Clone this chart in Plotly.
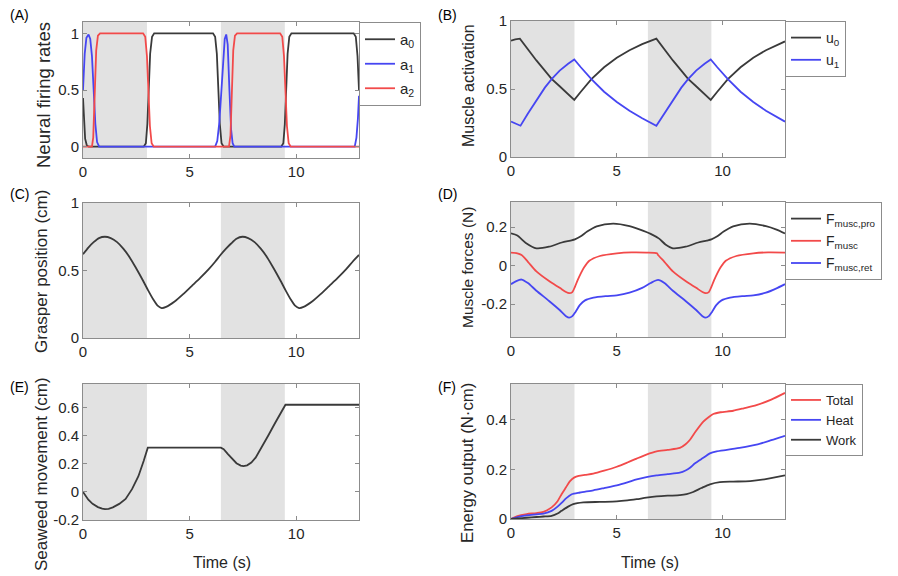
import plotly.graph_objects as go
from plotly.subplots import make_subplots

# ---- data ----
# shaded phases (s)
shade_start = [0.0, 6.47]
shade_end = [3.0, 9.47]

# (A) neural firing rates
t_a0 = [0, 0.05, 0.1, 0.18, 0.28, 2.85, 2.95, 3.02, 3.08, 3.15, 3.24, 3.34,
        6.1, 6.2, 6.28, 6.35, 6.42, 6.5, 6.6, 9.3, 9.4, 9.47, 9.53, 9.6, 9.68, 9.78,
        12.7, 12.8, 12.88, 12.95]
a0 = [0.43, 0.2, 0.07, 0.01, 0, 0, 0.03, 0.2, 0.5, 0.82, 0.97, 1,
      1, 0.97, 0.82, 0.5, 0.2, 0.03, 0, 0, 0.03, 0.2, 0.5, 0.82, 0.97, 1,
      1, 0.97, 0.8, 0.5]
t_a1 = [0, 0.08, 0.16, 0.26, 0.34, 0.42, 0.5, 0.58, 0.66, 0.76,
        6.2, 6.3, 6.4, 6.5, 6.58, 6.65, 6.72, 6.79, 6.87, 6.95, 7.02, 7.1,
        12.75, 12.83, 12.9, 12.95]
a1 = [0.5, 0.82, 0.96, 0.99, 0.95, 0.8, 0.5, 0.2, 0.04, 0,
      0, 0.05, 0.22, 0.5, 0.8, 0.95, 0.99, 0.9, 0.5, 0.15, 0.03, 0,
      0, 0.08, 0.25, 0.45]
t_a2 = [0, 0.42, 0.48, 0.55, 0.62, 0.7, 0.8, 2.82, 2.92, 3.0, 3.07, 3.14, 3.22, 3.32,
        6.85, 6.92, 6.98, 7.05, 7.13, 7.23, 9.25, 9.35, 9.43, 9.5, 9.57, 9.65, 9.75, 12.95]
a2 = [0, 0, 0.08, 0.45, 0.85, 0.98, 1, 1, 0.97, 0.8, 0.5, 0.18, 0.03, 0,
      0, 0.1, 0.45, 0.85, 0.98, 1, 1, 0.97, 0.8, 0.5, 0.18, 0.03, 0, 0]

# (B) muscle activation
t_u0 = [0, 0.2, 0.42, 0.8, 1.2, 1.6, 1.92, 2.3, 2.7, 2.99, 3.3, 3.8, 4.4, 5.0, 5.6, 6.2,
        6.87, 7.25, 7.65, 8.05, 8.37, 8.75, 9.15, 9.44, 9.75, 10.25, 10.85, 11.45,
        12.05, 12.65, 12.95]
u0 = [0.855, 0.865, 0.87, 0.79, 0.71, 0.635, 0.575, 0.52, 0.465, 0.42, 0.48, 0.573,
      0.66, 0.73, 0.785, 0.83, 0.87, 0.79, 0.71, 0.635, 0.575, 0.52, 0.465, 0.42,
      0.48, 0.573, 0.66, 0.73, 0.785, 0.83, 0.85]
t_u1 = [0, 0.2, 0.45, 0.8, 1.2, 1.6, 1.92, 2.3, 2.7, 2.99, 3.3, 3.8, 4.4, 5.0, 5.6, 6.2,
        6.87, 7.25, 7.65, 8.05, 8.37, 8.75, 9.15, 9.44, 9.75, 10.25, 10.85, 11.45,
        12.05, 12.65, 12.95]
u1 = [0.26, 0.245, 0.23, 0.32, 0.42, 0.51, 0.573, 0.635, 0.685, 0.717, 0.66, 0.573,
      0.48, 0.405, 0.34, 0.285, 0.23, 0.32, 0.42, 0.51, 0.573, 0.635, 0.685, 0.717,
      0.66, 0.573, 0.48, 0.405, 0.34, 0.285, 0.26]

# (C) grasper position
t_gr = [0, 0.25, 0.5, 0.75, 1.03, 1.3, 1.6, 1.9, 2.2, 2.5, 2.8, 3.05, 3.3, 3.5, 3.69,
        3.9, 4.3, 4.7, 5.1, 5.5, 5.9, 6.2, 6.45, 6.7, 6.95, 7.2, 7.48, 7.75, 8.05,
        8.35, 8.65, 8.95, 9.25, 9.5, 9.75, 9.95, 10.14, 10.35, 10.75, 11.15, 11.55,
        11.95, 12.35, 12.65, 12.95]
grasper = [0.62, 0.67, 0.71, 0.74, 0.75, 0.74, 0.71, 0.66, 0.595, 0.515, 0.43, 0.355,
           0.285, 0.24, 0.222, 0.23, 0.27, 0.325, 0.385, 0.445, 0.51, 0.565, 0.615,
           0.66, 0.7, 0.735, 0.75, 0.74, 0.71, 0.66, 0.595, 0.515, 0.43, 0.355, 0.285,
           0.24, 0.222, 0.23, 0.27, 0.325, 0.385, 0.445, 0.51, 0.565, 0.615]

# (D) muscle forces
t_fpro = [0, 0.3, 0.7, 1.2, 1.8, 2.4, 2.8, 3.02, 3.3, 3.6, 4.05, 4.83, 5.6, 6.1, 6.6,
          7.0, 7.3, 7.65, 8.25, 8.85, 9.25, 9.47, 9.75, 10.05, 10.5, 11.28, 12.05,
          12.55, 12.95]
f_pro = [0.167, 0.156, 0.118, 0.09, 0.098, 0.12, 0.13, 0.136, 0.152, 0.177, 0.204,
         0.218, 0.205, 0.187, 0.165, 0.14, 0.11, 0.09, 0.098, 0.12, 0.13, 0.136, 0.152,
         0.177, 0.204, 0.218, 0.205, 0.187, 0.167]
t_fm = [0, 0.3, 0.5, 0.8, 1.2, 1.8, 2.3, 2.6, 2.75, 2.9, 3.02, 3.15, 3.3, 3.45, 3.7,
        4.2, 5.0, 5.7, 6.4, 6.9, 6.95, 7.25, 7.65, 8.25, 8.75, 9.05, 9.2, 9.35, 9.47,
        9.6, 9.75, 9.9, 10.15, 10.65, 11.45, 12.15, 12.95]
f_musc = [0.067, 0.064, 0.055, 0.02, -0.03, -0.08, -0.115, -0.137, -0.143, -0.137,
          -0.11, -0.075, -0.04, -0.01, 0.025, 0.05, 0.064, 0.069, 0.068, 0.064, 0.055,
          0.02, -0.03, -0.08, -0.115, -0.137, -0.143, -0.137, -0.11, -0.075, -0.04,
          -0.01, 0.025, 0.05, 0.064, 0.069, 0.068]
t_fret = [0, 0.25, 0.5, 0.8, 1.2, 1.8, 2.3, 2.6, 2.75, 2.9, 3.05, 3.25, 3.5, 3.9, 4.5,
          5.0, 5.6, 6.2, 6.6, 6.95, 7.25, 7.65, 8.25, 8.75, 9.05, 9.2, 9.35, 9.5, 9.7,
          9.95, 10.35, 10.95, 11.45, 12.05, 12.6, 12.95]
f_ret = [-0.096, -0.08, -0.072, -0.09, -0.13, -0.183, -0.23, -0.262, -0.27, -0.262,
         -0.24, -0.205, -0.18, -0.166, -0.158, -0.154, -0.14, -0.115, -0.09, -0.074,
         -0.09, -0.13, -0.183, -0.23, -0.262, -0.27, -0.262, -0.24, -0.205, -0.18,
         -0.166, -0.158, -0.154, -0.14, -0.115, -0.096]

# (E) seaweed movement
t_sw = [0, 0.1, 0.25, 0.45, 0.7, 0.9, 1.03, 1.2, 1.4, 1.7, 2.0, 2.3, 2.6, 2.85, 3.04,
        6.47, 6.6, 6.8, 7.0, 7.2, 7.4, 7.53, 7.7, 7.9, 8.1, 8.4, 8.7, 9.0, 9.25, 9.5,
        12.95]
seaweed = [0, -0.025, -0.055, -0.085, -0.108, -0.119, -0.122, -0.12, -0.11, -0.085,
           -0.05, 0.02, 0.112, 0.222, 0.316, 0.316, 0.305, 0.27, 0.235, 0.205, 0.188,
           0.185, 0.19, 0.21, 0.245, 0.32, 0.405, 0.488, 0.555, 0.622, 0.622]

# (F) energy output
t_tot = [0, 0.3, 0.74, 1.2, 1.53, 1.92, 2.2, 2.39, 2.6, 2.79, 3.0, 3.2, 3.5, 3.89, 4.4,
         5.0, 5.5, 5.94, 6.4, 6.88, 7.4, 7.98, 8.25, 8.46, 8.7, 9.09, 9.35, 9.56, 9.9,
         10.5, 11.0, 11.6, 12.3, 12.95]
e_total = [0, 0.012, 0.02, 0.024, 0.029, 0.047, 0.072, 0.1, 0.128, 0.153, 0.168, 0.174,
           0.178, 0.183, 0.195, 0.211, 0.228, 0.244, 0.26, 0.273, 0.279, 0.287, 0.302,
           0.32, 0.35, 0.393, 0.412, 0.424, 0.431, 0.437, 0.447, 0.46, 0.482, 0.509]
t_heat = [0, 0.3, 0.74, 1.2, 1.53, 1.92, 2.2, 2.39, 2.6, 2.87, 3.26, 3.89, 4.4, 5.0, 5.5,
          5.94, 6.4, 6.88, 7.4, 7.98, 8.25, 8.46, 8.7, 9.09, 9.4, 9.72, 10.2, 10.8, 11.6,
          12.3, 12.95]
e_heat = [0, 0.008, 0.015, 0.019, 0.022, 0.033, 0.05, 0.065, 0.083, 0.1, 0.107, 0.116,
          0.125, 0.136, 0.148, 0.16, 0.169, 0.176, 0.181, 0.187, 0.196, 0.207, 0.225,
          0.247, 0.265, 0.273, 0.279, 0.287, 0.3, 0.318, 0.336]
t_work = [0, 0.3, 0.74, 1.2, 1.53, 1.92, 2.2, 2.39, 2.7, 2.94, 3.42, 4.2, 5.0, 5.5, 5.94,
          6.4, 6.88, 7.4, 7.98, 8.3, 8.61, 9.0, 9.4, 9.87, 10.5, 11.3, 12.1, 12.95]
e_work = [0, 0.002, 0.005, 0.008, 0.01, 0.013, 0.022, 0.033, 0.05, 0.06, 0.067, 0.069,
          0.071, 0.075, 0.08, 0.086, 0.091, 0.094, 0.096, 0.1, 0.109, 0.125, 0.14, 0.149,
          0.151, 0.153, 0.162, 0.176]

BLACK = "#3a3a3a"
BLUE = "#4646f2"
RED = "#f24a4a"
AXC = "#8c8c8c"
TXT = "#262626"
FONT = "Liberation Sans, Arial, sans-serif"
# the page body has an 8px margin, so the figure is 8px smaller than the window
OFF = 8
W, H = 898 - OFF, 576 - OFF
LW = 1.8


def px(x):
    return (x - OFF) / W


def py(y):
    return 1 - (y - OFF) / H


fig = make_subplots(rows=3, cols=2)


def line(x, y, color, name, row, col, legend=None, shape="linear"):
    fig.add_trace(go.Scatter(x=x, y=y, mode="lines", name=name, legendgroup=name,
                             line=dict(color=color, width=LW, shape=shape, smoothing=0.7),
                             showlegend=legend is not None, legend=legend or "legend"),
                  row=row, col=col)


line(t_a0, a0, BLACK, "a<sub>0</sub>", 1, 1, "legend")
line(t_a1, a1, BLUE, "a<sub>1</sub>", 1, 1, "legend")
line(t_a2, a2, RED, "a<sub>2</sub>", 1, 1, "legend")
line(t_u0, u0, BLACK, "u<sub>0</sub>", 1, 2, "legend2")
line(t_u1, u1, BLUE, "u<sub>1</sub>", 1, 2, "legend2")
line(t_gr, grasper, BLACK, "grasper", 2, 1, None, "spline")
line(t_fpro, f_pro, BLACK, "F<sub>musc,pro</sub>", 2, 2, "legend3", "spline")
line(t_fm, f_musc, RED, "F<sub>musc</sub>", 2, 2, "legend3", "spline")
line(t_fret, f_ret, BLUE, "F<sub>musc,ret</sub>", 2, 2, "legend3", "spline")
line(t_sw, seaweed, BLACK, "seaweed", 3, 1)
line(t_tot, e_total, RED, "Total", 3, 2, "legend4", "spline")
line(t_heat, e_heat, BLUE, "Heat", 3, 2, "legend4", "spline")
line(t_work, e_work, BLACK, "Work", 3, 2, "legend4", "spline")

# axes boxes in window pixels: (left, right, top, bottom)
boxes = [(83, 359, 22, 158), (511, 785, 21, 157),
         (83, 359, 203, 338), (511, 785, 202, 337),
         (83, 359, 384, 520), (511, 785, 384, 519)]
yranges = [[-0.1, 1.1], [0, 1], [0, 1], [-0.37, 0.33], [-0.2, 0.77], [0, 0.545]]
yticks = [[0, 0.5, 1], [0, 0.5, 1], [0, 0.5, 1], [-0.2, 0, 0.2],
          [-0.2, 0, 0.2, 0.4, 0.6], [0, 0.2, 0.4]]
ytext = [["0", "0.5", "1"], ["0", "0.5", "1"], ["0", "0.5", "1"], ["-0.2", "0", "0.2"],
         ["-0.2", "0", "0.2", "0.4", "0.6"], ["0", "0.2", "0.4"]]

axis_style = dict(showline=True, linecolor=AXC, linewidth=1, mirror="ticks",
                  ticks="inside", ticklen=4, tickcolor=AXC, showgrid=False,
                  zeroline=False, automargin=False,
                  tickfont=dict(size=15, color=TXT, family=FONT))

for i, (l, r, t, b) in enumerate(boxes):
    n = i + 1
    sfx = "" if n == 1 else str(n)
    fig.layout["xaxis" + sfx].update(domain=[px(l), px(r)], range=[0, 12.95],
                                     tickvals=[0, 5, 10], **axis_style)
    fig.layout["yaxis" + sfx].update(domain=[py(b), py(t)], range=yranges[i],
                                     tickvals=yticks[i], ticktext=ytext[i], **axis_style)
    for s0, s1 in zip(shade_start, shade_end):
        fig.add_shape(type="rect", xref="x" + sfx, yref="y" + sfx + " domain",
                      x0=s0, x1=s1, y0=0, y1=1, fillcolor="#e2e2e2",
                      line=dict(width=0), layer="below")

legend_style = dict(bgcolor="white", bordercolor=AXC, borderwidth=1,
                    xanchor="left", yanchor="top", itemwidth=30,
                    traceorder="grouped")
fig.update_layout(
    legend=dict(x=px(359), y=py(22), tracegroupgap=2,
                font=dict(size=15, color=TXT, family=FONT), **legend_style),
    legend2=dict(x=px(785), y=py(21), tracegroupgap=1,
                 font=dict(size=14, color=TXT, family=FONT), **legend_style),
    legend3=dict(x=px(785), y=py(202), tracegroupgap=1,
                 font=dict(size=14, color=TXT, family=FONT), **legend_style),
    legend4=dict(x=px(785), y=py(384), tracegroupgap=0,
                 font=dict(size=13, color=TXT, family=FONT), **legend_style),
)

ann = []
# panel letters: left column ones sit at the very left edge of the figure
for txt, x, y, anchor in [("(A)", 8, 15, "left"), ("(B)", 447, 15, "center"),
                          ("(C)", 8, 194, "left"), ("(D)", 447, 194, "center"),
                          ("(E)", 8, 387, "left"), ("(F)", 447, 387, "center")]:
    ann.append(dict(text=txt, x=px(x), y=py(y), xref="paper", yref="paper",
                    xanchor=anchor, yanchor="middle",
                    showarrow=False, font=dict(size=14, color="black")))
for txt, x, y, fs in [("Neural firing rates", 44, 95, 18.5),
                      ("Muscle activation", 468, 86, 16),
                      ("Grasper position (cm)", 41, 272, 17),
                      ("Muscle forces (N)", 467, 268, 15.5),
                      ("Seaweed movement (cm)", 41, 474, 17),
                      ("Energy output (N·cm)", 467, 463, 16.8)]:
    ann.append(dict(text=txt, x=px(x), y=py(y), xref="paper", yref="paper",
                    xanchor="center", yanchor="middle",
                    showarrow=False, textangle=-90, font=dict(size=fs, color=TXT)))
for x in [222, 650]:
    ann.append(dict(text="Time (s)", x=px(x), y=py(562), xref="paper", yref="paper",
                    xanchor="center", yanchor="middle",
                    showarrow=False, font=dict(size=16, color=TXT)))

fig.update_layout(
    width=W, height=H, margin=dict(l=0, r=0, t=0, b=0, autoexpand=False),
    paper_bgcolor="white", plot_bgcolor="white",
    font=dict(family=FONT, color=TXT),
    annotations=ann,
)

fig.write_html("out.html")
